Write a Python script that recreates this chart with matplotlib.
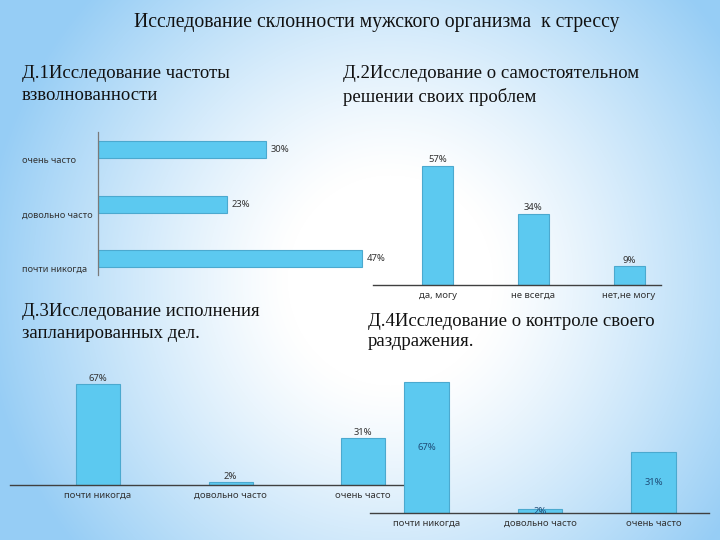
import matplotlib
matplotlib.use("Agg")
import matplotlib.pyplot as plt
import matplotlib.transforms as mtransforms
import numpy as np

# данные
d1_labels = ["почти никогда", "довольно часто", "очень часто"]
d1_values = [47, 23, 30]

d2_labels = ["да, могу", "не всегда", "нет,не могу"]
d2_values = [57, 34, 9]

d3_labels = ["почти никогда", "довольно часто", "очень часто"]
d3_values = [67, 2, 31]

d4_labels = ["почти никогда", "довольно часто", "очень часто"]
d4_values = [67, 2, 31]

W, H = 720, 540
bar_color = "#5CC9F0"
edge_color = "#4BA9CF"
axis_color = "#404040"
label_font = "Noto Sans"
title_font = "Liberation Serif"


def px(l, t, r, b):
    return [l / W, 1 - b / H, (r - l) / W, (b - t) / H]


fig = plt.figure(figsize=(7.2, 5.4), dpi=100)

# фон: голубой по краям, белый в центре
bg = fig.add_axes([0, 0, 1, 1])
yy, xx = np.mgrid[0:H, 0:W]
dist = np.sqrt(((xx - 390) / 410.0) ** 2 + ((yy - 280) / 420.0) ** 2)
t = np.clip((dist - 0.25) / 0.75, 0, 1) ** 1.2
blue = np.array([150, 205, 245]) / 255.0
img = (1 - t[..., None]) * np.ones(3) + t[..., None] * blue
bg.imshow(img, aspect="auto", extent=[0, W, H, 0])
bg.set_axis_off()

# заголовки
fig.text(377 / W, 1 - 22 / H, "Исследование склонности мужского организма  к стрессу",
         ha="center", va="center", fontsize=14.2, family=title_font, color="#111111")
subtitles = [
    (22, 74, "Д.1Исследование частоты"),
    (22, 96, "взволнованности"),
    (343, 74, "Д.2Исследование о самостоятельном"),
    (343, 97, "решении своих проблем"),
    (22, 311, "Д.3Исследование исполнения"),
    (22, 333, "запланированных дел."),
    (368, 321, "Д.4Исследование о контроле своего"),
    (368, 342, "раздражения."),
]
for x, y, s in subtitles:
    fig.text(x / W, 1 - y / H, s, ha="left", va="center",
             fontsize=13.5, family=title_font, color="#111111")


def clean(ax):
    ax.patch.set_alpha(0)
    for s in ax.spines.values():
        s.set_visible(False)
    ax.set_xticks([])
    ax.set_yticks([])


# Д.1 горизонтальные столбцы
ax1 = fig.add_axes(px(98, 132, 400, 275))
clean(ax1)
y1 = np.arange(len(d1_values))
ax1.barh(y1, d1_values, height=0.31, color=bar_color, edgecolor=edge_color, linewidth=0.8)
ax1.set_xlim(0, 53.8)
ax1.set_ylim(-0.30, 2.32)
ax1.spines["left"].set_visible(True)
ax1.spines["left"].set_color("#7a7a7a")
ax1.spines["left"].set_linewidth(0.9)
trans = mtransforms.blended_transform_factory(fig.transFigure, ax1.transData)
for i, (lab, v) in enumerate(zip(d1_labels, d1_values)):
    ax1.text(v + 0.8, i, f"{v}%", ha="left", va="center", fontsize=6.8,
             family=label_font, color="#333333", clip_on=False)
    ax1.text(22 / W, i - 0.2, lab, transform=trans, ha="left", va="center",
             fontsize=6.6, family=label_font, color="#333333")


def vbars(ax, labels, values, width, inside=False):
    clean(ax)
    x = np.arange(len(values))
    ax.bar(x, values, width=width, color=bar_color, edgecolor=edge_color, linewidth=0.8)
    ax.spines["bottom"].set_visible(True)
    ax.spines["bottom"].set_color(axis_color)
    ax.spines["bottom"].set_linewidth(1.0)
    ax.set_xticks(x)
    ax.set_xticklabels(labels, fontsize=6.8, family=label_font, color="#333333")
    ax.tick_params(axis="x", length=0, pad=4)
    for xi, v in zip(x, values):
        if inside:
            ax.text(xi, v / 2, f"{v}%", ha="center", va="center", fontsize=6.8,
                    family=label_font, color="#1F4E79", fontweight="bold")
        else:
            ax.text(xi, v + 0.8, f"{v}%", ha="center", va="bottom", fontsize=6.8,
                    family=label_font, color="#333333")


# Д.2
ax2 = fig.add_axes(px(373, 150, 661, 285))
vbars(ax2, d2_labels, d2_values, 0.324)
ax2.set_xlim(-0.674, 2.334)
ax2.set_ylim(0, 64.6)

# Д.3
ax3 = fig.add_axes(px(10, 370, 404, 485))
vbars(ax3, d3_labels, d3_values, 0.332)
ax3.set_xlim(-0.664, 2.309)
ax3.set_ylim(0, 76.3)

# Д.4
ax4 = fig.add_axes(px(370, 375, 709, 513))
vbars(ax4, d4_labels, d4_values, 0.396, inside=True)
ax4.set_xlim(-0.498, 2.489)
ax4.set_ylim(0, 70.6)

fig.savefig("out.png", dpi=100)
